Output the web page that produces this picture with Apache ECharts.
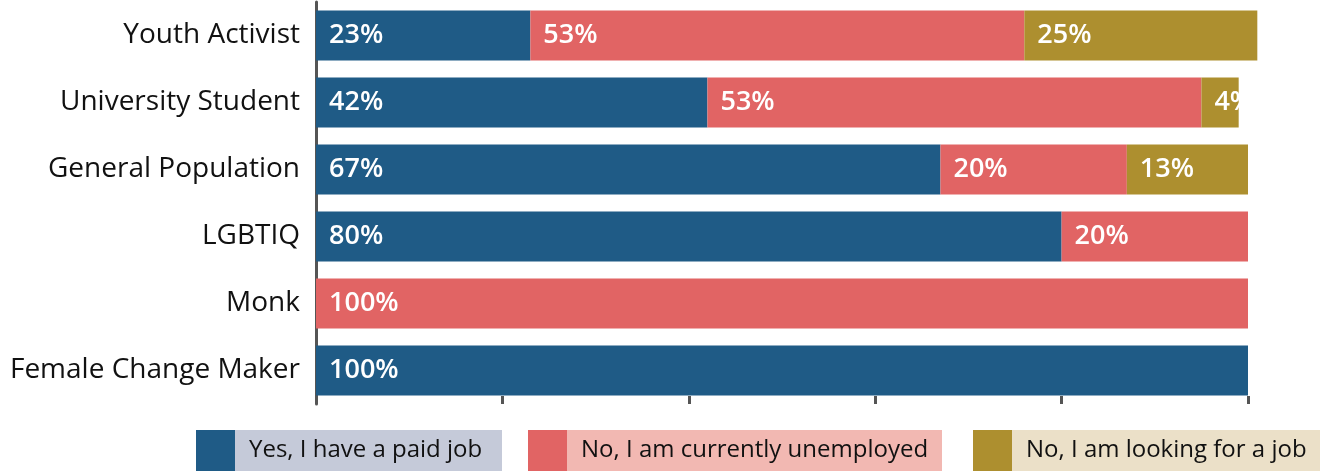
<!DOCTYPE html>
<html>
<head>
<meta charset="utf-8">
<script src="https://cdn.jsdelivr.net/npm/echarts@6/dist/echarts.min.js"></script>
<style>
  html, body { margin: 0; padding: 0; background: #fff; }
  #chart { width: 1320px; height: 471px; }
</style>
</head>
<body>
<div id="chart"></div>
<script>
// Employment status by respondent group (percent of respondents)
const categories = [
  'Youth Activist',
  'University Student',
  'General Population',
  'LGBTIQ',
  'Monk',
  'Female Change Maker'
];
const paidJob    = [23, 42, 67, 80, 0, 100];
const unemployed = [53, 53, 20, 20, 100, 0];
const lookingJob = [25, 4, 13, 0, 0, 0];

const seriesNames = [
  'Yes, I have a paid job',
  'No, I am currently unemployed',
  'No, I am looking for a job'
];
const xTicks = [0, 20, 40, 60, 80, 100];

const COLORS = ['#1f5b86', '#e16464', '#ad8f2f'];
const LIGHT  = ['#c5cad9', '#f2b8b2', '#ebe0c8'];
const FONT = '"Open Sans", "Noto Sans", sans-serif';

const chart = echarts.init(document.getElementById('chart'), null, { renderer: 'canvas' });

function makeSeries(name, data, color) {
  return {
    name: name,
    type: 'bar',
    stack: 'total',
    data: data,
    barWidth: 50,
    clip: false,
    itemStyle: { color: color },
    label: {
      show: true,
      position: 'insideLeft',
      distance: 13,
      color: '#fff',
      fontFamily: FONT,
      fontSize: 27,
      fontWeight: 600,
      formatter: p => (p.value > 0 ? p.value + '%' : '')
    },
    emphasis: { disabled: true }
  };
}

// one legend per item: a colour swatch followed by a tinted text box
const legendLefts = [196, 528, 973];
const legendTextWidths = [253, 361, 309];
const legends = seriesNames.map((name, i) => ({
  data: [name],
  left: legendLefts[i] - 6,
  top: 430,
  padding: 0,
  orient: 'horizontal',
  selectedMode: false,
  itemWidth: 1,
  itemHeight: 41,
  itemStyle: { opacity: 0 },
  formatter: n => '{sq|}{t|' + n + '}',
  textStyle: {
    fontFamily: FONT,
    fontSize: 24,
    color: '#111',
    rich: {
      sq: { width: 39, height: 41, backgroundColor: COLORS[i] },
      t: {
        fontFamily: FONT,
        fontSize: 24,
        color: '#111',
        height: 41,
        lineHeight: 41,
        width: legendTextWidths[i],
        padding: [0, 0, 0, 14],
        backgroundColor: LIGHT[i]
      }
    }
  }
}));

chart.setOption({
  animation: false,
  backgroundColor: '#fff',
  grid: { left: 316, right: 72, top: 2, bottom: 67 },
  legend: legends,
  xAxis: {
    type: 'value',
    min: xTicks[0],
    max: xTicks[xTicks.length - 1],
    interval: xTicks[1] - xTicks[0],
    axisLine: { show: false },
    axisTick: { show: true, inside: true, length: 8, lineStyle: { color: '#555', width: 3 } },
    axisLabel: { show: false },
    splitLine: { show: false }
  },
  yAxis: {
    type: 'category',
    data: categories,
    inverse: true,
    axisLine: { show: true, lineStyle: { color: '#555', width: 3 } },
    axisTick: { show: false },
    axisLabel: {
      color: '#111',
      fontFamily: FONT,
      fontSize: 28,
      margin: 16
    }
  },
  series: [
    makeSeries(seriesNames[0], paidJob, COLORS[0]),
    makeSeries(seriesNames[1], unemployed, COLORS[1]),
    makeSeries(seriesNames[2], lookingJob, COLORS[2])
  ]
});
</script>
</body>
</html>
